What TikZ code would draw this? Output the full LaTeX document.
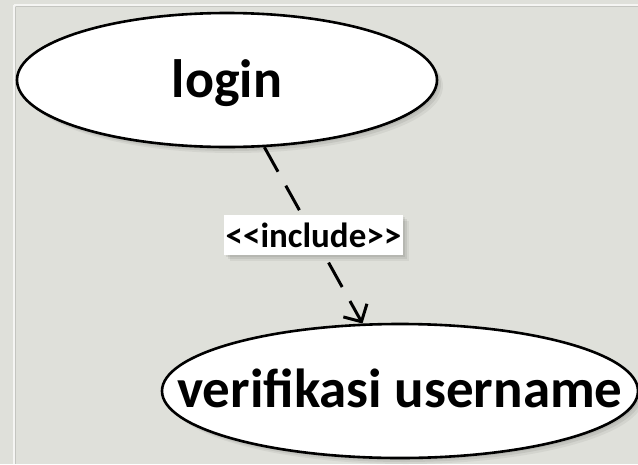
\documentclass[tikz,border=0pt]{standalone}
\usepackage{fontspec}
\setmainfont{Carlito}
\usetikzlibrary{shapes.geometric,arrows.meta,shadows}
\definecolor{bggray}{RGB}{223,224,218}
\definecolor{framelight}{RGB}{245,245,243}
\definecolor{framedark}{RGB}{196,197,192}
\tikzset{
  softshadow/.style={
    general shadow={fill=black, opacity=0.07, shadow xshift=2pt, shadow yshift=-2pt},
    general shadow={fill=black, opacity=0.07, shadow xshift=4pt, shadow yshift=-4pt},
    general shadow={fill=black, opacity=0.05, shadow xshift=6pt, shadow yshift=-6pt}},
  usecase/.style={ellipse, draw=black, line width=2.6pt, fill=white, inner sep=0pt,
    minimum height=134pt, softshadow},
  deparrow/.style={line width=3pt, dash pattern=on 28pt off 16pt,
    -{Straight Barb[length=13pt,width=27pt,line width=3pt]}},
  stereo/.style={fill=white, inner xsep=2pt, inner ysep=0pt, minimum height=40pt,
    font=\bfseries\fontsize{35}{40}\selectfont, softshadow}
}
\begin{document}
\begin{tikzpicture}[x=1pt,y=-1pt]
  \fill[bggray] (0,0) rectangle (638,464);
  \useasboundingbox (0,0) rectangle (638,464);
  \draw[framedark, line width=1.5pt] (15.5,6.5) -- (638,6.5);
  \draw[framedark, line width=1.5pt] (15.5,6.5) -- (15.5,464);
  \draw[framelight, line width=1.5pt] (14,5) -- (638,5);
  \draw[framelight, line width=1.5pt] (14,5) -- (14,464);
  \node[usecase, minimum width=420pt, font=\bfseries\fontsize{54}{60}\selectfont] (login) at (227,80) {\makebox[0pt]{\smash{\raisebox{-17pt}{login}}}};
  \node[usecase, minimum width=476pt, font=\bfseries\fontsize{55}{60}\selectfont] (verif) at (400,391) {\makebox[0pt]{\smash{\raisebox{-16pt}{verifikasi username}}}};
  \draw[deparrow] (login) -- node[stereo, solid] (lbl) {<\kern0pt<include>\kern0pt>} (verif);
\end{tikzpicture}
\end{document}
